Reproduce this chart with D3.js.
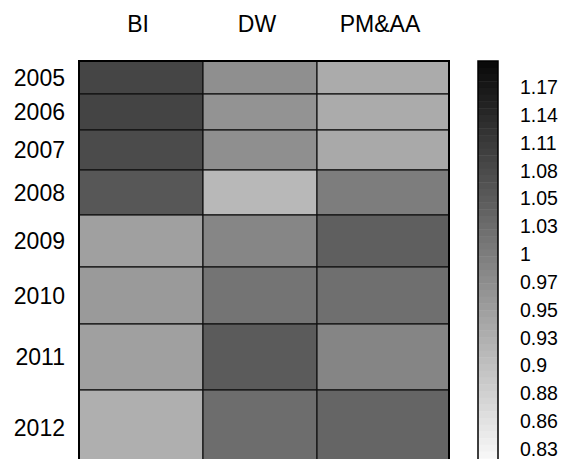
<!DOCTYPE html>
<html>
<head>
<meta charset="utf-8">
<script src="https://cdn.jsdelivr.net/npm/d3@7"></script>
<style>
  html, body { margin: 0; padding: 0; background: #fff; }
  svg { display: block; font-family: "Liberation Sans", Arial, sans-serif; }
</style>
</head>
<body>
<svg id="chart" width="564" height="459"></svg>
<script>
// ---- data ----
const columns = ["BI", "DW", "PM&AA"];
const years = ["2005", "2006", "2007", "2008", "2009", "2010", "2011", "2012"];
const colWeights = [124, 114, 132];
const rowWeights = [33, 36, 40, 45, 52, 57, 66, 75];
const valuesBI   = [1.102, 1.103, 1.092, 1.073, 0.958, 0.967, 0.958, 0.934];
const valuesDW   = [0.984, 0.978, 0.984, 0.920, 0.999, 1.027, 1.067, 1.038];
const valuesPMAA = [0.940, 0.940, 0.943, 1.013, 1.060, 1.035, 1.000, 1.051];
const legendLabels = ["1.17", "1.14", "1.11", "1.08", "1.05", "1.03", "1", "0.97", "0.95", "0.93", "0.9", "0.88", "0.86", "0.83"];
const colorDomain = [0.815, 1.195];

const series = [valuesBI, valuesDW, valuesPMAA];

// ---- layout ----
const svg = d3.select("#chart");
const plot = { left: 79, top: 61, right: 449, bottom: 465 };

const cum = arr => arr.reduce((a, w) => { a.push(a[a.length - 1] + w); return a; }, [0]);
const colCum = cum(colWeights), rowCum = cum(rowWeights);
const x = d3.scaleLinear().domain([0, colCum[colCum.length - 1]]).range([plot.left, plot.right]);
const y = d3.scaleLinear().domain([0, rowCum[rowCum.length - 1]]).range([plot.top, plot.bottom]);

const color = d3.scaleLinear().domain(colorDomain).range(["#fafafa", "#0a0a0a"]).clamp(true);

const cells = [];
series.forEach((vals, ci) => vals.forEach((v, ri) => cells.push({ ci, ri, v })));

svg.append("g").selectAll("rect").data(cells).join("rect")
  .attr("x", d => x(colCum[d.ci]))
  .attr("y", d => y(rowCum[d.ri]))
  .attr("width", d => x(colCum[d.ci + 1]) - x(colCum[d.ci]))
  .attr("height", d => y(rowCum[d.ri + 1]) - y(rowCum[d.ri]))
  .attr("fill", d => color(d.v))
  .attr("stroke", "#111")
  .attr("stroke-width", 1.2);

svg.append("rect")
  .attr("x", plot.left).attr("y", plot.top)
  .attr("width", plot.right - plot.left).attr("height", plot.bottom - plot.top)
  .attr("fill", "none").attr("stroke", "#000").attr("stroke-width", 2);

// column headers
svg.append("g").selectAll("text").data(columns).join("text")
  .attr("x", (d, i) => (x(colCum[i]) + x(colCum[i + 1])) / 2 - 3)
  .attr("y", 32)
  .attr("text-anchor", "middle")
  .attr("font-size", 23)
  .attr("fill", "#000")
  .text(d => d);

// row labels
svg.append("g").selectAll("text").data(years).join("text")
  .attr("x", 65)
  .attr("y", (d, i) => (y(rowCum[i]) + y(rowCum[i + 1])) / 2)
  .attr("dy", "0.36em")
  .attr("text-anchor", "end")
  .attr("font-size", 23)
  .attr("fill", "#000")
  .text(d => d);

// colour bar
const bar = { x: 478, w: 20, top: 61, bottom: 465 };
const nBands = 60;
const barScale = d3.scaleLinear().domain([0, nBands]).range([bar.top, bar.bottom]);
const bandVal = d3.scaleLinear().domain([0, nBands - 1]).range([colorDomain[1], colorDomain[0]]);
svg.append("g").selectAll("rect").data(d3.range(nBands)).join("rect")
  .attr("x", bar.x)
  .attr("y", i => barScale(i))
  .attr("width", bar.w)
  .attr("height", i => barScale(i + 1) - barScale(i) + 0.5)
  .attr("fill", i => color(bandVal(i)));
svg.append("rect")
  .attr("x", bar.x).attr("y", bar.top)
  .attr("width", bar.w).attr("height", bar.bottom - bar.top)
  .attr("fill", "none").attr("stroke", "#000").attr("stroke-width", 1.5);

const ly = d3.scalePoint().domain(legendLabels).range([87, 449]);
svg.append("g").selectAll("text").data(legendLabels).join("text")
  .attr("x", 520)
  .attr("y", d => ly(d))
  .attr("dy", "0.36em")
  .attr("font-size", 19.5)
  .attr("fill", "#000")
  .text(d => d);
</script>
</body>
</html>
